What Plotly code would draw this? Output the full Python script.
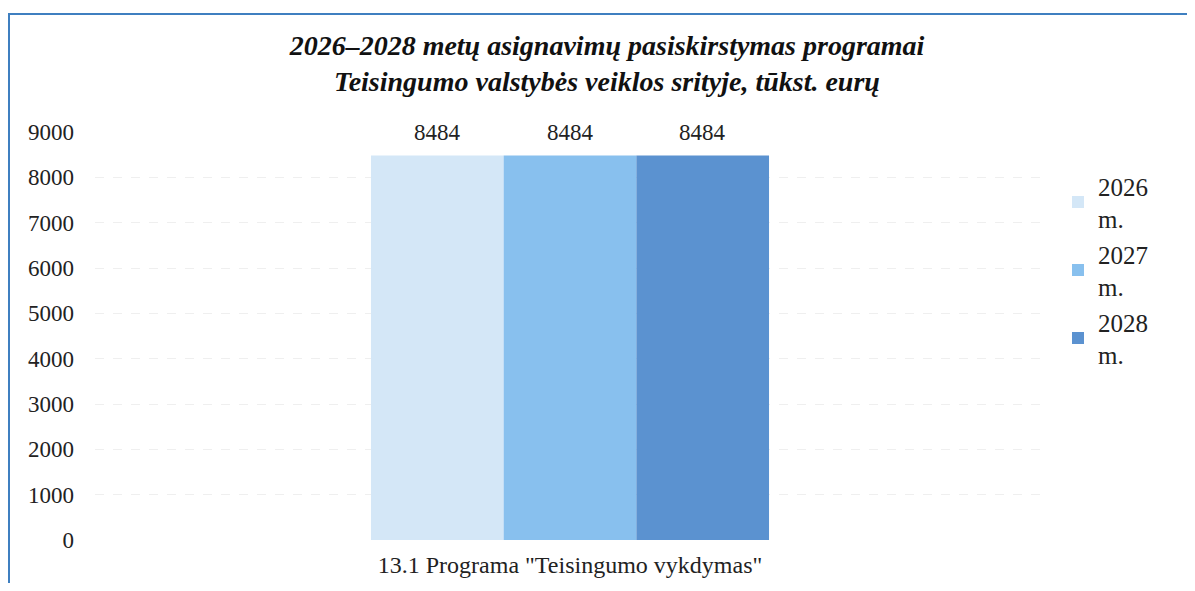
import plotly.graph_objects as go

categories = ['13.1 Programa "Teisingumo vykdymas"']
series_names = ["2026<br>m.", "2027<br>m.", "2028<br>m."]
values_2026 = [8484]
values_2027 = [8484]
values_2028 = [8484]
colors = ["#d4e7f7", "#88c0ee", "#5b92d0"]
title_text = ("<b><i>2026–2028 metų asignavimų pasiskirstymas programai</i></b><br>"
              "<b><i>Teisingumo valstybės veiklos srityje, tūkst. eurų</i></b>")
y_ticks = [0, 1000, 2000, 3000, 4000, 5000, 6000, 7000, 8000, 9000]

font_family = "Liberation Serif"
bargap = 0.581

fig = go.Figure()
all_series = [values_2026, values_2027, values_2028]
for i, (name, vals, col) in enumerate(zip(series_names, all_series, colors)):
    fig.add_trace(go.Bar(
        x=categories, y=vals, name=name, legendgroup=f"g{i}",
        marker=dict(color=col, line=dict(width=0)),
        cliponaxis=False,
    ))

# page has 8px body margin
OFF = 8
W, H = 1179, 575
l, t = 95 - OFF, 132 - OFF
plot_right, plot_bottom = 1045 - OFF, 540 - OFF
r, b = W - plot_right, H - plot_bottom
pw, ph = plot_right - l, plot_bottom - t

# value labels above each bar (grouped position derived from bargap)
bw = pw * (1 - bargap) / len(all_series)
for i, vals in enumerate(all_series):
    for c, v in zip(categories, vals):
        fig.add_annotation(x=c, y=v, xref="x", yref="y", text=str(v), showarrow=False,
                           xshift=(i - (len(all_series) - 1) / 2) * bw, yshift=8,
                           yanchor="bottom", font=dict(family=font_family, size=23, color="#222"))

fig.update_layout(
    width=W, height=H,
    margin=dict(l=l, r=r, t=t, b=b, pad=0, autoexpand=False),
    paper_bgcolor="white", plot_bgcolor="white",
    barmode="group", bargap=bargap, bargroupgap=0,
    title=dict(text=title_text, x=(607 - OFF - l) / pw, xref="paper", xanchor="center",
               y=1 - 47 / H, yanchor="top",
               font=dict(family=font_family, size=28, color="#111")),
    font=dict(family=font_family, size=23, color="#222"),
    showlegend=True,
    legend=dict(x=(1058 - OFF - l) / pw, y=(plot_bottom - (163 - OFF)) / ph, xanchor="left", yanchor="top",
                font=dict(family=font_family, size=25, color="#222"),
                itemwidth=30, tracegroupgap=0, bgcolor="rgba(0,0,0,0)"),
    xaxis=dict(showline=False, ticks="", tickfont=dict(size=24, family=font_family),
               showgrid=False, ticklabelstandoff=8, automargin=False),
    yaxis=dict(range=[0, 9000], tickvals=y_ticks, showline=False, ticks="",
               showgrid=True, gridcolor="#efefef", griddash="dash", gridwidth=1,
               zeroline=False, tickfont=dict(size=23, family=font_family),
               ticklabelstandoff=20, automargin=False),
)

fig.add_shape(type="rect", xref="paper", yref="paper",
              x0=(1 - l) / pw, x1=(W + 30 - l) / pw,
              y0=-(b + 30) / ph, y1=(plot_bottom - (14 - OFF)) / ph,
              line=dict(color="#3f7fc0", width=2), fillcolor="rgba(0,0,0,0)", layer="above")

fig.write_html("out.html")
